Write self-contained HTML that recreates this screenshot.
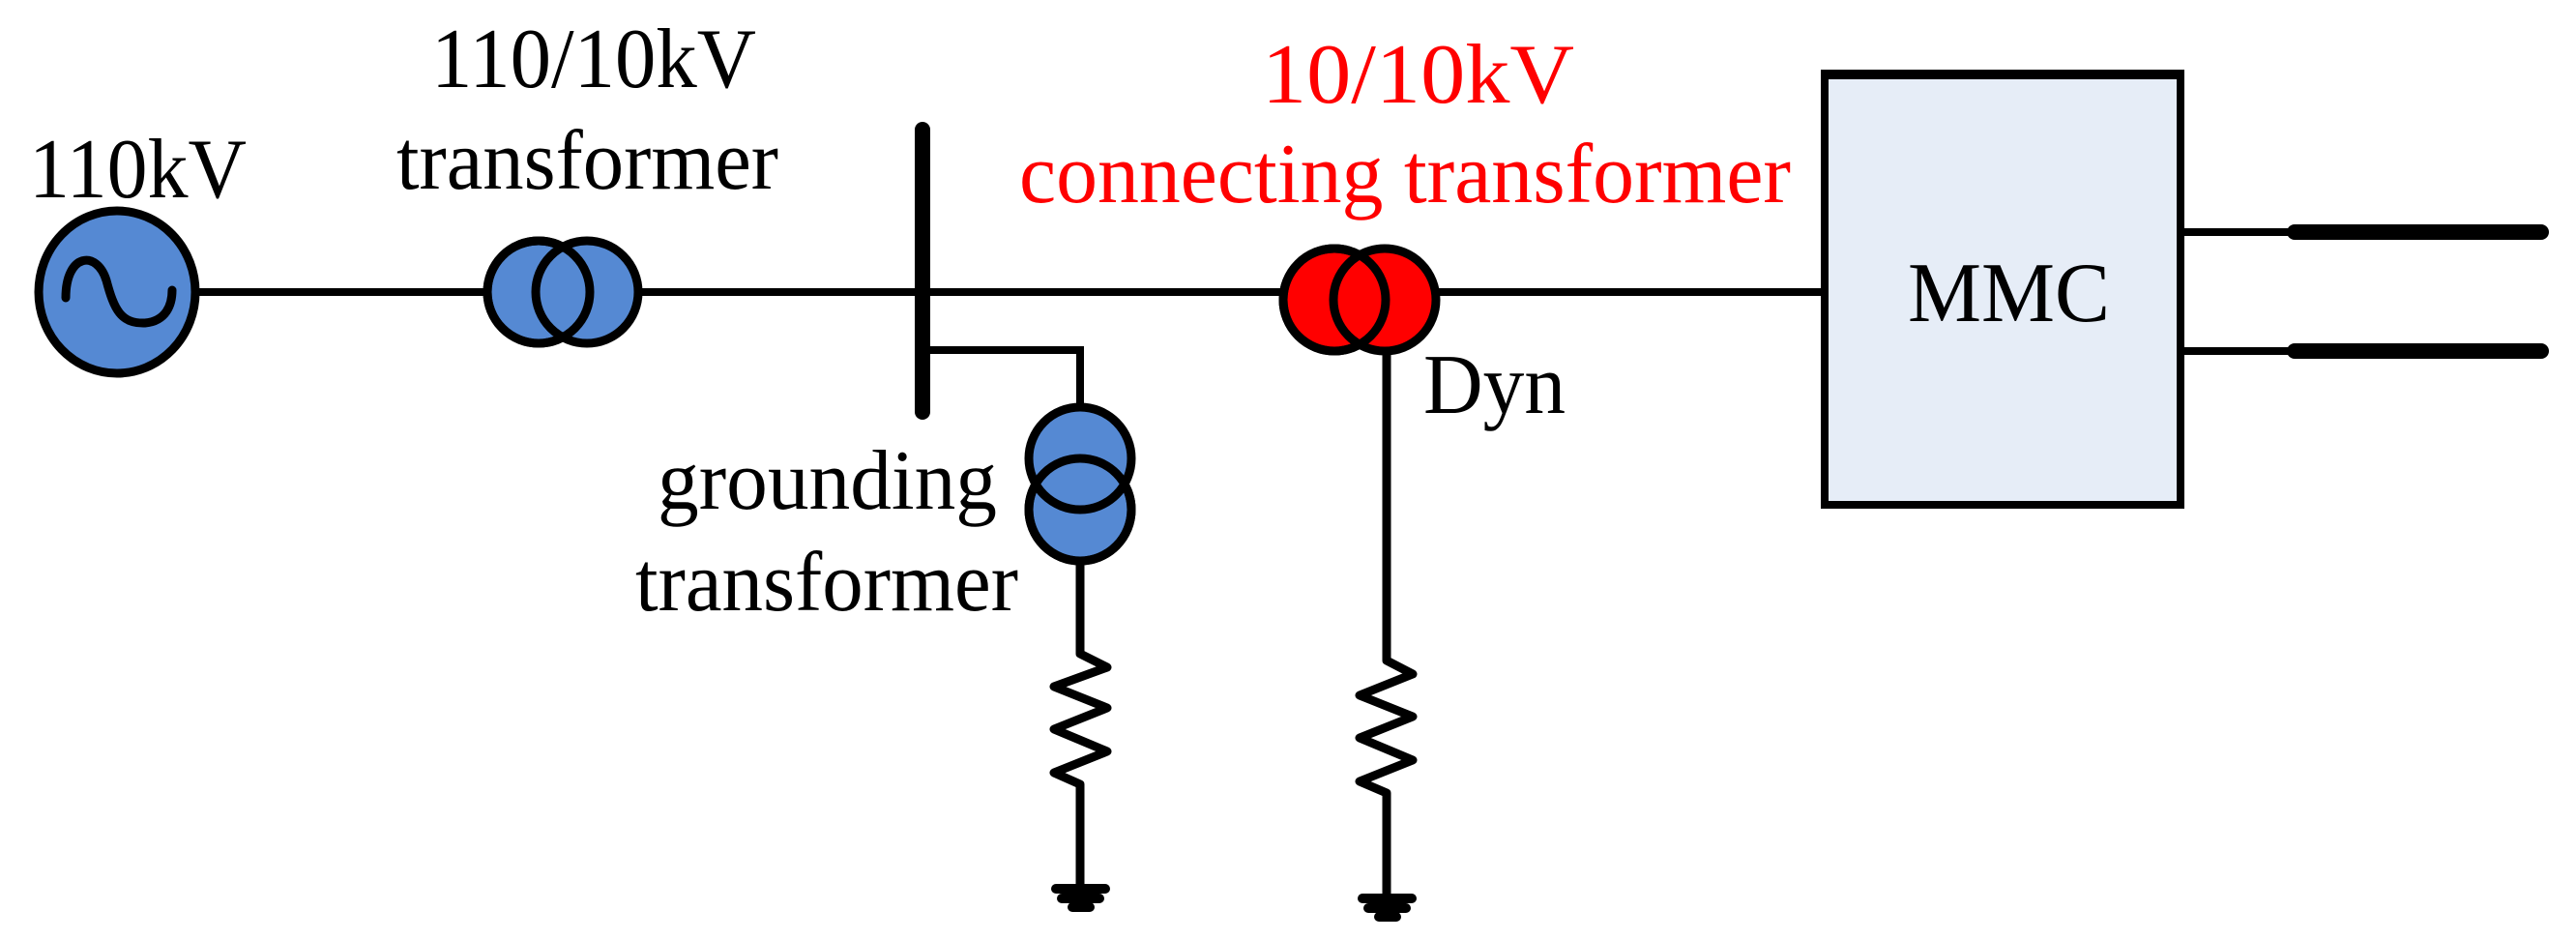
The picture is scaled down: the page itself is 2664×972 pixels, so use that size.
<!DOCTYPE html>
<html><head><meta charset="utf-8"><style>html,body{margin:0;padding:0;background:#fff}svg{display:block}</style></head>
<body>
<svg width="2664" height="972" viewBox="0 0 2664 972" xmlns="http://www.w3.org/2000/svg" font-family="'Liberation Serif', serif" font-size="88">
<!-- main line -->
<line x1="200" y1="302" x2="1884" y2="302" stroke="#000" stroke-width="8"/>
<!-- generator -->
<ellipse cx="121" cy="302" rx="81" ry="84" fill="#5589d3" stroke="#000" stroke-width="9"/>
<path d="M68,308 C68,262 100,258 110,290 C118,320 125,335 150,334 C172,332 178,315 178,300" fill="none" stroke="#000" stroke-width="9" stroke-linecap="round"/>
<!-- 110/10 transformer -->
<circle cx="557" cy="302" r="53" fill="#5589d3" stroke="#000" stroke-width="9"/>
<circle cx="607" cy="302" r="53" fill="#5589d3" stroke="#000" stroke-width="9"/>
<circle cx="557" cy="302" r="53" fill="none" stroke="#000" stroke-width="9"/>
<!-- bus -->
<line x1="954" y1="134" x2="954" y2="426" stroke="#000" stroke-width="16" stroke-linecap="round"/>
<polyline points="954,362 1117,362 1117,421" fill="none" stroke="#000" stroke-width="8"/>
<!-- grounding transformer -->
<circle cx="1117" cy="527" r="53" fill="#5589d3" stroke="#000" stroke-width="9"/>
<circle cx="1117" cy="474" r="53" fill="#5589d3" stroke="#000" stroke-width="9"/>
<circle cx="1117" cy="527" r="53" fill="none" stroke="#000" stroke-width="9"/>
<polyline points="1117,580 1117,676 1145,690 1090,710 1145,732 1090,754 1145,777 1090,799 1117,811 1117,919" fill="none" stroke="#000" stroke-width="9" stroke-linejoin="round"/>
<g stroke="#000" stroke-width="10" stroke-linecap="round">
<line x1="1092" y1="919" x2="1143" y2="919"/><line x1="1098" y1="929" x2="1137" y2="929"/><line x1="1109" y1="938" x2="1127" y2="938"/>
</g>
<!-- red transformer -->
<circle cx="1380" cy="310" r="53" fill="#ff0000" stroke="#000" stroke-width="9"/>
<circle cx="1432" cy="310" r="53" fill="#ff0000" stroke="#000" stroke-width="9"/>
<circle cx="1380" cy="310" r="53" fill="none" stroke="#000" stroke-width="9"/>
<polyline points="1434,363 1434,683 1461,697 1406,719 1461,741 1406,763 1461,786 1406,808 1434,820 1434,929" fill="none" stroke="#000" stroke-width="9" stroke-linejoin="round"/>
<g stroke="#000" stroke-width="10" stroke-linecap="round">
<line x1="1409" y1="929" x2="1460" y2="929"/><line x1="1415" y1="939" x2="1454" y2="939"/><line x1="1426" y1="948" x2="1444" y2="948"/>
</g>
<!-- MMC -->
<rect x="1887" y="76" width="368" height="446" fill="#e6edf7" stroke="#000" stroke-width="8"/>
<line x1="1884" y1="77" x2="2258" y2="77" stroke="#000" stroke-width="10"/>
<line x1="2256" y1="240" x2="2373" y2="240" stroke="#000" stroke-width="8"/>
<line x1="2373" y1="240" x2="2628" y2="240" stroke="#000" stroke-width="16" stroke-linecap="round"/>
<line x1="2256" y1="363" x2="2373" y2="363" stroke="#000" stroke-width="8"/>
<line x1="2373" y1="363" x2="2628" y2="363" stroke="#000" stroke-width="16" stroke-linecap="round"/>
<!-- text -->
<text x="30" y="204" textLength="225" lengthAdjust="spacingAndGlyphs">110kV</text>
<text x="446" y="90" textLength="336" lengthAdjust="spacingAndGlyphs">110/10kV</text>
<text x="410" y="195" textLength="395" lengthAdjust="spacingAndGlyphs">transformer</text>
<text x="1305" y="106" fill="#ff0000" textLength="323" lengthAdjust="spacingAndGlyphs">10/10kV</text>
<text x="1054" y="209" fill="#ff0000" textLength="798" lengthAdjust="spacingAndGlyphs">connecting transformer</text>
<text x="1472" y="427" textLength="147" lengthAdjust="spacingAndGlyphs">Dyn</text>
<text x="1973" y="332" textLength="209" lengthAdjust="spacingAndGlyphs">MMC</text>
<text x="680" y="526" textLength="351" lengthAdjust="spacingAndGlyphs">grounding</text>
<text x="657" y="631" textLength="396" lengthAdjust="spacingAndGlyphs">transformer</text>
</svg>
</body></html>
